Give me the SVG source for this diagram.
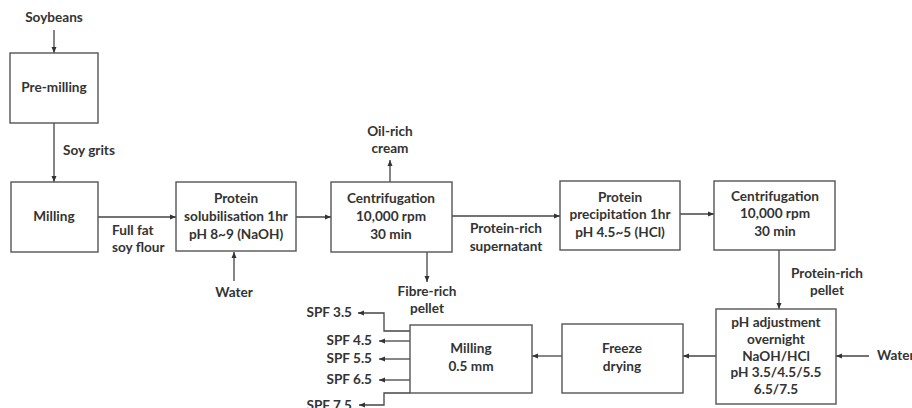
<svg xmlns="http://www.w3.org/2000/svg" width="912" height="408" viewBox="0 0 912 408">
<defs>
<marker id="ah" viewBox="0 0 6 6" refX="6" refY="3" markerWidth="6" markerHeight="6" markerUnits="userSpaceOnUse" orient="auto">
<path d="M0,0.5 L6,3 L0,5.5 z" fill="#333"/>
</marker>
<style>
text{font-family:Lato,"Open Sans","Liberation Sans",sans-serif;font-weight:bold;font-size:13.6px;fill:#333;text-anchor:middle}
.box{fill:#fff;stroke:#555;stroke-width:1.4}
.c{fill:none;stroke:#444;stroke-width:1.3}
.a{marker-end:url(#ah)}
.s{text-anchor:start}
.e{text-anchor:end}
</style>
</defs>
<rect width="912" height="408" fill="#fff"/>
<g id="connectors">
<path class="c a" d="M54,30 V53"/>
<path class="c a" d="M54,123 V182"/>
<path class="c a" d="M98,217 H176"/>
<path class="c a" d="M234,281 V252"/>
<path class="c a" d="M296,217 H331"/>
<path class="c a" d="M390,182 V160"/>
<path class="c a" d="M427,252 V282"/>
<path class="c a" d="M452,216 H560"/>
<path class="c a" d="M680,214 H714"/>
<path class="c a" d="M779,250 V309"/>
<path class="c a" d="M869,356 H836"/>
<path class="c a" d="M716,356 H683"/>
<path class="c a" d="M562,356 H532"/>
<path class="c a" d="M410,331 H384 V313 H358"/>
<path class="c a" d="M410,341 H379"/>
<path class="c a" d="M410,359 H379"/>
<path class="c a" d="M410,380 H379"/>
<path class="c a" d="M410,393 H384 V405 H359"/>
</g>
<g id="labels">
<text x="54" y="22">Soybeans</text>
<text x="63" y="155" class="s">Soy grits</text>
<text x="112" y="235" class="s">Full fat</text>
<text x="112" y="252" class="s">soy flour</text>
<text x="234" y="297">Water</text>
<text x="390" y="136">Oil-rich</text>
<text x="390" y="153">cream</text>
<text x="427" y="296">Fibre-rich</text>
<text x="427" y="313">pellet</text>
<text x="506" y="233">Protein-rich</text>
<text x="506" y="251">supernatant</text>
<text x="827" y="278">Protein-rich</text>
<text x="827" y="295">pellet</text>
<text x="877" y="360" class="s">Water</text>
<text x="352" y="317" class="e">SPF 3.5</text>
<text x="372" y="345" class="e">SPF 4.5</text>
<text x="372" y="363" class="e">SPF 5.5</text>
<text x="372" y="384" class="e">SPF 6.5</text>
<text x="352" y="410" class="e">SPF 7.5</text>
</g>
<g id="pre-milling">
<rect class="box" x="10" y="53" width="88" height="70"/>
<text x="54" y="92">Pre-milling</text>
</g>
<g id="milling">
<rect class="box" x="11" y="182" width="87" height="70"/>
<text x="54" y="221">Milling</text>
</g>
<g id="solubilisation">
<rect class="box" x="176" y="182" width="120" height="69"/>
<text x="236" y="203">Protein</text>
<text x="236" y="221">solubilisation 1hr</text>
<text x="236" y="239">pH 8~9 (NaOH)</text>
</g>
<g id="centrifugation1">
<rect class="box" x="331" y="182" width="121" height="70"/>
<text x="391" y="203">Centrifugation</text>
<text x="391" y="221">10,000 rpm</text>
<text x="391" y="239">30 min</text>
</g>
<g id="precipitation">
<rect class="box" x="560" y="181" width="120" height="69"/>
<text x="620" y="202">Protein</text>
<text x="620" y="219">precipitation 1hr</text>
<text x="620" y="237">pH 4.5~5 (HCl)</text>
</g>
<g id="centrifugation2">
<rect class="box" x="714" y="181" width="121" height="69"/>
<text x="775" y="201">Centrifugation</text>
<text x="775" y="218">10,000 rpm</text>
<text x="775" y="236">30 min</text>
</g>
<g id="ph-adjustment">
<rect class="box" x="716" y="309" width="120" height="95"/>
<text x="776" y="327">pH adjustment</text>
<text x="776" y="344">overnight</text>
<text x="776" y="361">NaOH/HCl</text>
<text x="776" y="377">pH 3.5/4.5/5.5</text>
<text x="776" y="394">6.5/7.5</text>
</g>
<g id="freeze-drying">
<rect class="box" x="562" y="324" width="121" height="69"/>
<text x="622" y="353">Freeze</text>
<text x="622" y="371">drying</text>
</g>
<g id="milling-fine">
<rect class="box" x="410" y="325" width="122" height="68"/>
<text x="471" y="353">Milling</text>
<text x="471" y="371">0.5 mm</text>
</g>
</svg>
